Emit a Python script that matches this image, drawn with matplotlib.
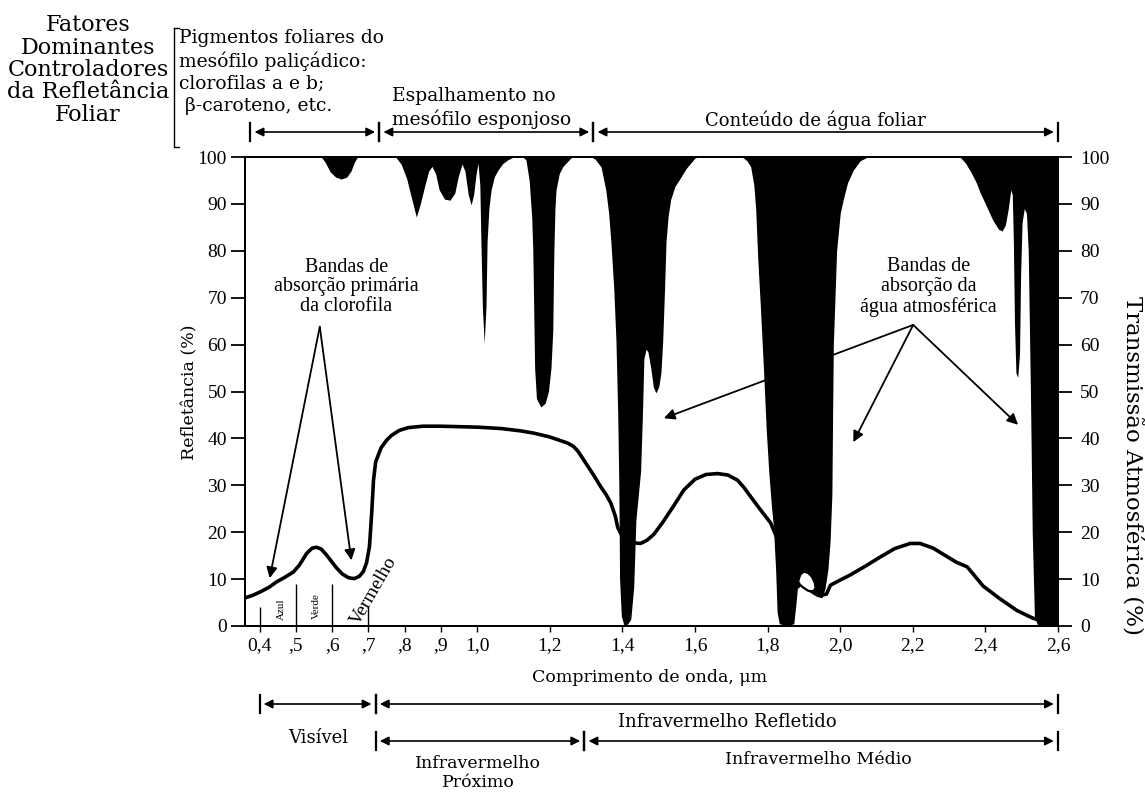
import matplotlib
matplotlib.use("Agg")
import matplotlib.pyplot as plt
import matplotlib.transforms as mtransforms
from matplotlib.lines import Line2D

# === Leaf reflectance curve (%), wavelength in micrometres ===
refl_wl = [0.36, 0.38, 0.40, 0.425, 0.447, 0.47, 0.493, 0.51, 0.53, 0.545, 0.557,
           0.57, 0.584, 0.598, 0.612, 0.628, 0.645, 0.661, 0.675, 0.686, 0.695,
           0.703, 0.709, 0.714, 0.72, 0.735, 0.75, 0.763, 0.785, 0.81, 0.85, 0.90,
           0.95, 1.00, 1.066, 1.12, 1.157, 1.20, 1.249, 1.265, 1.277, 1.29, 1.305,
           1.322, 1.34, 1.355, 1.368, 1.38, 1.387, 1.40, 1.42, 1.45, 1.468, 1.487,
           1.51, 1.541, 1.569, 1.60, 1.63, 1.662, 1.69, 1.717, 1.735, 1.753, 1.78,
           1.808, 1.83, 1.86, 1.885, 1.92, 1.95, 1.962, 1.973, 2.00, 2.028, 2.07,
           2.11, 2.15, 2.193, 2.22, 2.256, 2.29, 2.32, 2.35, 2.394, 2.44, 2.487,
           2.53, 2.56, 2.60]
refl = [6.0, 6.5, 7.2, 8.2, 9.4, 10.4, 11.5, 13.0, 15.5, 16.6, 16.8,
        16.4, 15.2, 13.8, 12.4, 11.1, 10.3, 10.1, 10.6, 11.6, 13.5,
        17.0, 24.0, 31.0, 35.0, 38.0, 39.6, 40.6, 41.7, 42.3, 42.6, 42.6,
        42.5, 42.4, 42.1, 41.6, 41.1, 40.3, 39.0, 38.3, 37.3, 35.8, 34.0,
        32.0, 29.7, 28.0, 26.2, 23.5, 21.0, 19.0, 17.8, 17.6, 18.3, 19.6,
        22.0, 25.6, 29.0, 31.3, 32.3, 32.5, 32.2, 31.1, 29.5, 27.6, 24.8,
        22.0, 18.0, 13.5, 10.8, 8.5, 6.6, 6.8, 8.7, 9.8, 10.9, 12.8,
        14.7, 16.5, 17.6, 17.6, 16.6, 15.0, 13.6, 12.6, 8.5, 5.8, 3.3,
        1.7, 0.9, 0.0]

# small loop of the curve inside the 1.9 um band
loop_wl = [1.884, 1.89, 1.90, 1.912, 1.922, 1.93, 1.932, 1.925, 1.912, 1.898, 1.888, 1.884]
loop_refl = [9.5, 11.0, 11.6, 11.3, 10.5, 9.2, 8.0, 7.4, 7.5, 8.2, 8.9, 9.5]

# === Atmospheric transmission (%) ===
trans_wl = [0.36, 0.570, 0.580, 0.595, 0.61, 0.625, 0.64, 0.652, 0.662, 0.670,
            0.775, 0.790, 0.805, 0.818, 0.832, 0.843, 0.854, 0.866, 0.875, 0.885,
            0.895, 0.91, 0.925, 0.938, 0.948, 0.958, 0.966, 0.975, 0.983, 0.99,
            0.996, 1.002, 1.007, 1.010, 1.014, 1.019, 1.024, 1.027, 1.032, 1.038,
            1.047, 1.057, 1.07, 1.084, 1.10, 1.125, 1.134, 1.143, 1.150, 1.153,
            1.156, 1.158, 1.163, 1.175, 1.187, 1.196, 1.203, 1.208, 1.211, 1.214,
            1.217, 1.226, 1.236, 1.258, 1.265, 1.315, 1.325, 1.341, 1.354, 1.362,
            1.368, 1.376, 1.382, 1.387, 1.39, 1.392, 1.397, 1.405, 1.415, 1.423,
            1.431, 1.437, 1.45, 1.455, 1.459, 1.465, 1.47, 1.478, 1.485, 1.492,
            1.50, 1.506, 1.511, 1.516, 1.52, 1.526, 1.533, 1.545, 1.561, 1.575,
            1.588, 1.60, 1.61, 1.73, 1.743, 1.753, 1.762, 1.767, 1.773, 1.78,
            1.789, 1.796, 1.803, 1.81, 1.816, 1.822, 1.826, 1.832, 1.855, 1.872,
            1.877, 1.882, 1.89, 1.91, 1.935, 1.95, 1.958, 1.966, 1.972, 1.977,
            1.979, 1.981, 1.99, 2.00, 2.007, 2.02, 2.036, 2.055, 2.075, 2.33,
            2.345, 2.36, 2.375, 2.386, 2.40, 2.42, 2.436, 2.446, 2.455, 2.463,
            2.470, 2.474, 2.477, 2.48, 2.484, 2.489, 2.494, 2.497, 2.501, 2.507,
            2.513, 2.518, 2.524, 2.529, 2.535, 2.545, 2.60]
trans = [100, 100, 99, 96.8, 95.7, 95.3, 95.7, 97, 99, 100,
         100, 98.5, 95.5, 91.5, 87.2, 90, 93.5, 97, 98, 96.5,
         93, 91, 90.8, 92.3, 96, 98.5, 97, 92, 89.8, 92,
         96, 98.7, 94, 82, 68, 60.3, 68, 82, 89, 93,
         95.8, 97.2, 98.6, 99.4, 100, 100, 99.4, 95, 87, 80,
         65, 55, 48.5, 46.7, 47.5, 50, 55, 63, 80, 89,
         93, 96.5, 98, 99.8, 100, 100, 99.5, 97.9, 93, 88,
         82, 72, 61, 45, 30, 10, 2, 0, 0.5, 1.5,
         8.3, 22.6, 33, 45, 57, 59, 58.5, 55, 51, 49.7,
         51, 54, 61, 72, 82, 87.5, 91, 93.8, 95.7, 97.5,
         98.7, 99.8, 100, 100, 99.2, 98, 94, 89, 78, 68,
         54, 42, 33, 26, 21, 12, 3, 0.5, 0, 0.5,
         4, 8, 8.5, 7.5, 6.3, 6, 8, 12, 18, 28,
         45, 60, 80, 88, 90.5, 94.5, 97.2, 99.2, 100, 100,
         98.7, 96.8, 94.5, 92.3, 90, 86.6, 84.6, 84.2, 85.5, 89,
         93, 92, 82, 65, 54, 53, 58, 75, 86, 89,
         88, 80, 50, 20, 2, 0, 0]

xticks = [0.4, 0.5, 0.6, 0.7, 0.8, 0.9, 1.0, 1.2, 1.4, 1.6, 1.8, 2.0, 2.2, 2.4, 2.6]
xtick_labels = ["0,4", ",5", ",6", ",7", ",8", ",9", "1,0", "1,2", "1,4",
                "1,6", "1,8", "2,0", "2,2", "2,4", "2,6"]
yticks = [0, 10, 20, 30, 40, 50, 60, 70, 80, 90, 100]

# visible sub-band separators (Azul / Verde / Vermelho)
band_edges = [0.4, 0.5, 0.6, 0.7]
band_edge_tops = [4, 9, 9, 4]

W, H = 1145, 795
fig = plt.figure(figsize=(W / 100, H / 100), dpi=100)
fig.patch.set_facecolor("white")

book = "Liberation Serif"
win = "DejaVu Serif"

ax = fig.add_axes([245 / W, 1 - 626 / H, (1058 - 245) / W, (626 - 157) / H])
ax.set_xlim(0.36, 2.6)
ax.set_ylim(0, 100)

# absorption bands: black from the transmission curve up to 100 %
ax.fill_between(trans_wl, trans, 100, color="black", lw=0, zorder=1)
ax.plot(refl_wl, refl, color="black", lw=2.6, solid_joinstyle="round",
        solid_capstyle="round", zorder=3)
ax.fill(loop_wl, loop_refl, facecolor="white", edgecolor="black", lw=1.6, zorder=4)

ax.vlines(band_edges, 0, band_edge_tops, color="black", lw=1.0, zorder=2)

for s in ax.spines.values():
    s.set_linewidth(1.4)

ax.set_xticks(xticks)
ax.set_xticklabels(xtick_labels, fontfamily=book, fontsize=14)
ax.set_yticks(yticks)
ax.set_yticklabels([str(v) for v in yticks], fontfamily=book, fontsize=14)
ax.tick_params(axis="y", direction="out", length=10, width=1.3, pad=3)
ax.tick_params(axis="x", direction="out", length=4, width=1.0, pad=4)

ax2 = ax.twinx()
ax2.set_ylim(0, 100)
ax2.set_yticks(yticks)
ax2.set_yticklabels([str(v) for v in yticks], fontfamily=book, fontsize=14)
ax2.tick_params(axis="y", direction="out", length=10, width=1.3, pad=6)
for s in ax2.spines.values():
    s.set_linewidth(1.4)

# labels inside the plot
ax.text(0.46, 1.2, "Azul", rotation=90, fontsize=8, fontfamily=book, ha="center", va="bottom", zorder=5)
ax.text(0.557, 1.5, "Verde", rotation=90, fontsize=8, fontfamily=book, ha="center", va="bottom", zorder=5)
ax.text(0.715, 7.5, "Vermelho", rotation=60, fontsize=14, fontfamily=book, ha="center", va="center", zorder=5)

ax.text(0.639, 72.3, "Bandas de\nabsorção primária\nda clorofila", fontfamily=book,
        fontsize=14.5, ha="center", va="center", linespacing=1.05, zorder=5)
ax.text(2.243, 72.3, "Bandas de\nabsorção da\nágua atmosférica", fontfamily=book,
        fontsize=14.5, ha="center", va="center", linespacing=1.05, zorder=5)

arrow_kw = dict(arrowstyle="-|>", mutation_scale=16, lw=1.3, color="black",
                shrinkA=0, shrinkB=0)
for tip in [(0.428, 10.2), (0.653, 14.0)]:
    ax.annotate("", xy=tip, xytext=(0.566, 63.8), arrowprops=arrow_kw, zorder=5)
for tip in [(1.514, 44.3), (2.036, 39.2), (2.49, 42.9)]:
    ax.annotate("", xy=tip, xytext=(2.201, 64.2), arrowprops=arrow_kw, zorder=5)

# range arrows above and below the axes
blend = mtransforms.blended_transform_factory(ax.transData, ax.transAxes)
span_kw = dict(arrowstyle="<|-|>", mutation_scale=13, lw=1.2, color="black",
               shrinkA=3, shrinkB=3)


def span(x0, x1, y):
    ax.annotate("", xy=(x1, y), xytext=(x0, y), xycoords=blend, textcoords=blend,
                arrowprops=span_kw, annotation_clip=False)
    for x in (x0, x1):
        ax.plot([x, x], [y - 0.02, y + 0.02], color="black", lw=1.6,
                transform=blend, clip_on=False)


y_top = (626 - 132) / 469
span(0.375, 0.73, y_top)
span(0.73, 1.32, y_top)
span(1.32, 2.6, y_top)

y_row1 = (626 - 704) / 469
y_row2 = (626 - 741) / 469
span(0.4, 0.72, y_row1)
span(0.72, 2.6, y_row1)
span(0.72, 1.295, y_row2)
span(1.295, 2.6, y_row2)


def ftext(px, py, s, **kw):
    fig.text(px / W, 1 - py / H, s, **kw)


ftext(88, 70, "Fatores\nDominantes\nControladores\nda Refletância\nFoliar",
      fontfamily=win, fontsize=16, ha="center", va="center", linespacing=1.02)
ftext(179, 29, "Pigmentos foliares do\nmesófilo paliçádico:\nclorofilas a e b;\n β-caroteno, etc.",
      fontfamily=win, fontsize=13.5, ha="left", va="top", linespacing=1.28)
ftext(392, 108, "Espalhamento no\nmesófilo esponjoso", fontfamily=win, fontsize=13.5,
      ha="left", va="center", linespacing=1.25)
ftext(815, 120, "Conteúdo de água foliar", fontfamily=win, fontsize=13, ha="center", va="center")

# bracket next to the leaf-pigment note
fig.add_artist(Line2D([174 / W, 174 / W, 179 / W], [1 - 28 / H, 1 - 147 / H, 1 - 147 / H],
                      color="black", lw=1.0))
fig.add_artist(Line2D([174 / W, 179 / W], [1 - 28 / H, 1 - 28 / H], color="black", lw=1.0))

ftext(650, 677, "Comprimento de onda, μm", fontfamily=win, fontsize=12.5, ha="center", va="center")
ftext(318, 738, "Visível", fontfamily=win, fontsize=13, ha="center", va="center")
ftext(727, 722, "Infravermelho Refletido", fontfamily=win, fontsize=13, ha="center", va="center")
ftext(478, 773, "Infravermelho\nPróximo", fontfamily=win, fontsize=12.5, ha="center", va="center",
      linespacing=1.15)
ftext(818, 760, "Infravermelho Médio", fontfamily=win, fontsize=12.5, ha="center", va="center")
ftext(190, 392, "Refletância (%)", fontfamily=win, fontsize=12.5, ha="center", va="center",
      rotation=90)
ftext(1131, 465, "Transmissão Atmosférica (%)", fontfamily=win, fontsize=16.5, ha="center",
      va="center", rotation=-90)

fig.savefig("out.png", dpi=100, facecolor="white")
